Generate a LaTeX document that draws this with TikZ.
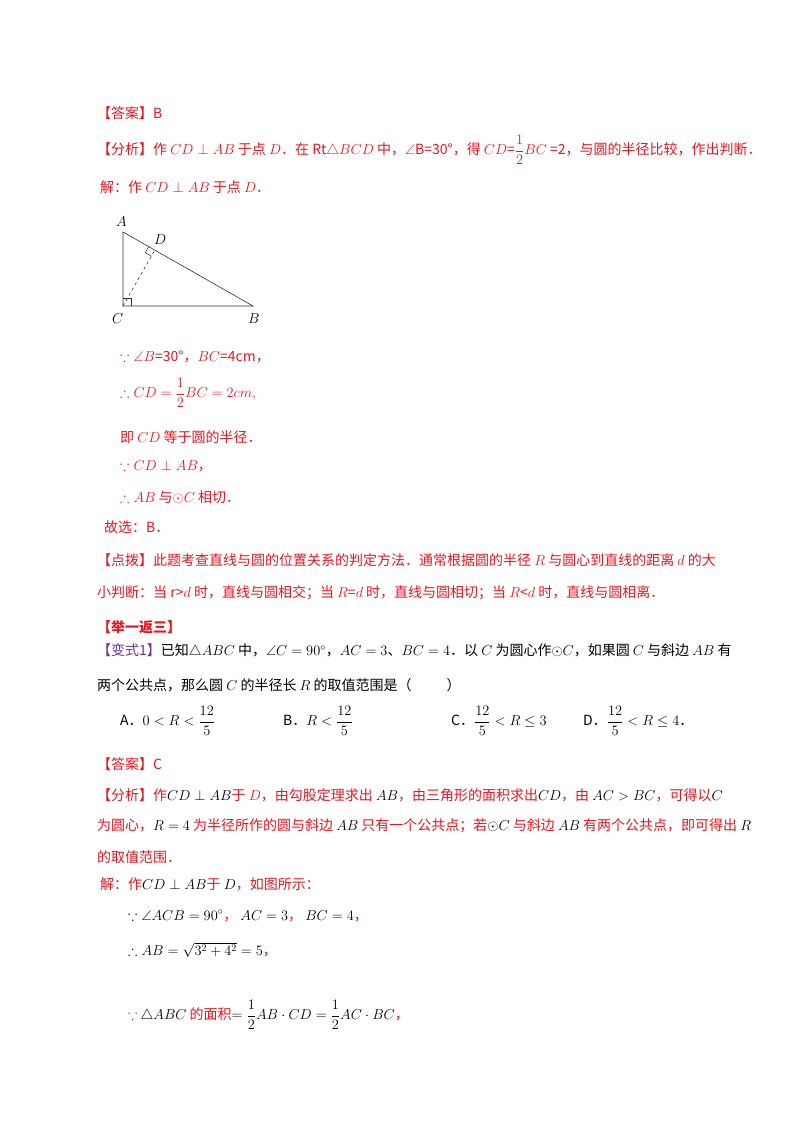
\documentclass[tikz,border=0pt]{standalone}
\usepackage{amsmath,amssymb}
\usepackage{fontspec}
\usetikzlibrary{calc}
\setmainfont{Noto Sans CJK SC}
\definecolor{rd}{RGB}{235,20,30}
\definecolor{pu}{RGB}{112,48,160}
\begin{document}
\begin{tikzpicture}[x=1pt,y=-1pt,
  tx/.style={anchor=west,inner sep=0pt,font=\fontsize{14}{16}\selectfont},
  red/.style={tx,text=rd},
  blk/.style={tx,text=black},
  edge/.style={draw=black!80,line width=0.6pt}]
\useasboundingbox (0,0) rectangle (800,1132);
\fill[white] (0,0) rectangle (800,1132);
\node[red] (a1) at (97,113) {【答案】B};
\node[red] (a2) at (97,150) {【分析】作 $CD\perp AB$ 于点 $D$．在 Rt$\triangle BCD$ 中，$\angle$B=30°，得 $CD$=$\dfrac{1}{2}BC$ =2，与圆的半径比较，作出判断．};
\node[red] (a3) at (100,187) {解：作 $CD\perp AB$ 于点 $D$．};
% triangle
\coordinate (A) at (123,232);
\coordinate (C) at (123,306);
\coordinate (B) at (253,306);
\coordinate (D) at (154.8,250.1);
\draw[edge] (A) -- (C) -- (B) -- cycle;
\draw[edge,dashed] (C) -- (D);
\draw[edge,line width=0.5pt] (C) ++(0,-8) -- ++(8,0) -- ++(0,8);
\draw[edge,line width=0.5pt] ($(D)!7pt!(C)$) -- ($(D)!7pt!(C)+($(D)!7pt!(A)$)-(D)$) -- ($(D)!7pt!(A)$);
\node[blk,font=\fontsize{15}{16}\selectfont] (lA) at (116,222) {$A$};
\node[blk,font=\fontsize{15}{16}\selectfont] (lD) at (154,240) {$D$};
\node[blk,font=\fontsize{15}{16}\selectfont] (lC) at (112,319) {$C$};
\node[blk,font=\fontsize{15}{16}\selectfont] (lB) at (248,319) {$B$};
\node[red] (b1) at (120,357) {$\because\angle B$=30°，$BC$=4cm，};
\node[red] (b2) at (120,393) {$\therefore CD=\dfrac{1}{2}BC=2cm,$};
\node[red] (b3) at (120,437) {即 $CD$ 等于圆的半径．};
\node[red] (b4) at (120,466) {$\because CD\perp AB$，};
\node[red] (b5) at (120,497) {$\therefore AB$ 与$\odot C$ 相切．};
\node[red] (b6) at (104,527) {故选：B．};
\node[red] (c1) at (97,560) {【点拨】此题考查直线与圆的位置关系的判定方法．通常根据圆的半径 $R$ 与圆心到直线的距离 $d$ 的大};
\node[red] (c2) at (97,593) {小判断：当 r>$d$ 时，直线与圆相交；当 $R$=$d$ 时，直线与圆相切；当 $R$<$d$ 时，直线与圆相离．};
\node[red,font=\fontsize{14}{16}\selectfont\bfseries] (d0) at (97,627) {【举一返三】};
\node[blk] (d1) at (97,651) {\textcolor{pu}{【变式1】}已知$\triangle ABC$ 中，$\angle C=90^\circ$，$AC=3$、$BC=4$．以 $C$ 为圆心作$\odot C$，如果圆 $C$ 与斜边 $AB$ 有};
\node[blk] (d2) at (97,685) {两个公共点，那么圆 $C$ 的半径长 $R$ 的取值范围是（\hspace{2.5em}）};
\node[blk] (oA) at (120,721) {A．$0<R<\dfrac{12}{5}$};
\node[blk] (oB) at (283,721) {B．$R<\dfrac{12}{5}$};
\node[blk] (oC) at (451,721) {C．$\dfrac{12}{5}<R\le 3$};
\node[blk] (oD) at (583,721) {D．$\dfrac{12}{5}<R\le 4$．};
\node[red] (e1) at (97,764) {【答案】C};
\node[red] (e2) at (97,795) {【分析】作\textcolor{black}{$CD\perp AB$}于 $D$，由勾股定理求出 \textcolor{black}{$AB$}，由三角形的面积求出\textcolor{black}{$CD$}，由 \textcolor{black}{$AC>BC$}，可得以\textcolor{black}{$C$}};
\node[red] (e3) at (97,826) {为圆心，\textcolor{black}{$R=4$} 为半径所作的圆与斜边 \textcolor{black}{$AB$} 只有一个公共点；若\textcolor{black}{$\odot C$} 与斜边 \textcolor{black}{$AB$} 有两个公共点，即可得出 \textcolor{black}{$R$}};
\node[red] (e4) at (97,857) {的取值范围．};
\node[red] (f1) at (100,884) {解：作\textcolor{black}{$CD\perp AB$}于 \textcolor{black}{$D$}，如图所示：};
\node[blk] (f2) at (128,916) {$\because\angle ACB=90^\circ$\textcolor{rd}{，} $AC=3$\textcolor{rd}{，} $BC=4$\textcolor{rd}{，}};
\node[blk] (f3) at (128,950) {$\therefore AB=\sqrt{3^2+4^2}=5$\textcolor{rd}{，}};
\node[blk] (f4) at (128,1015) {\textcolor{rd}{$\because$} $\triangle ABC$ \textcolor{rd}{的面积}$=\dfrac{1}{2}AB\cdot CD=\dfrac{1}{2}AC\cdot BC$\textcolor{rd}{，}};
\end{tikzpicture}
\end{document}
